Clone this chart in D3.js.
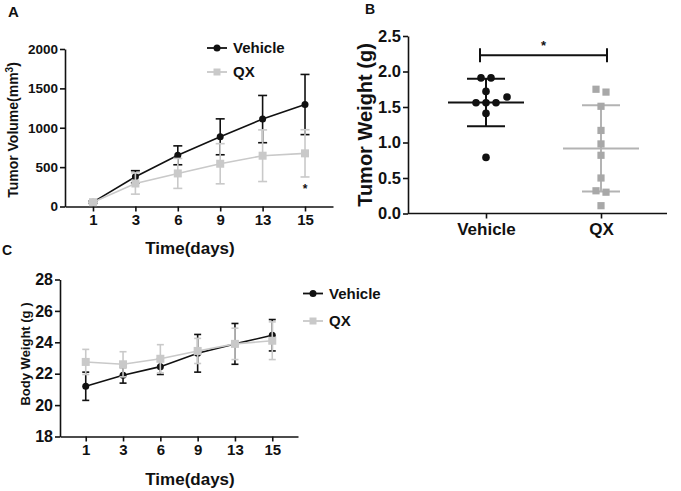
<!DOCTYPE html>
<html>
<head>
<meta charset="utf-8">
<script src="https://cdn.jsdelivr.net/npm/d3@7"></script>
<style>
  html, body { margin: 0; padding: 0; background: #fff; }
  svg { display: block; }
  text { font-family: Arial, "Liberation Sans", sans-serif; font-weight: bold; fill: #111; }
</style>
</head>
<body>
<svg id="chart" width="681" height="491"></svg>
<script>
// ---------- DATA ----------
const days = ["1", "3", "6", "9", "13", "15"];

// Panel A: tumor volume (mm^3), mean and SD
const volVehicle   = [55, 378, 650, 885, 1110, 1295];
const volVehicleSD = [15, 77, 120, 228, 300, 382];
const volQX        = [55, 292, 420, 543, 645, 675];
const volQXSD      = [15, 135, 190, 255, 328, 300];
const volTicks     = [0, 500, 1000, 1500, 2000];

// Panel B: tumor weight (g), individual animals
const groups        = ["Vehicle", "QX"];
const weightVehicle = [1.91, 1.91, 1.72, 1.64, 1.56, 1.56, 1.56, 1.41, 0.79];
const weightQX      = [1.75, 1.71, 1.51, 1.17, 0.98, 0.82, 0.50, 0.32, 0.30, 0.11];
const weightTicks   = [0, 0.5, 1.0, 1.5, 2.0, 2.5];

// Panel C: body weight (g), mean and SD
const bwVehicle   = [21.2, 21.9, 22.45, 23.3, 23.9, 24.45];
const bwVehicleSD = [0.9, 0.5, 0.5, 1.2, 1.3, 1.0];
const bwQX        = [22.75, 22.6, 22.95, 23.45, 23.9, 24.1];
const bwQXSD      = [0.8, 0.8, 0.9, 0.8, 1.0, 1.2];
const bwTicks     = [18, 20, 22, 24, 26, 28];

// ---------- STYLE ----------
const BLACK = "#111";
const LIGHT = "#c9c9c9";   // QX in line charts
const MID   = "#a8a8a8";   // QX in scatter
const AXW = 1.6;

const svg = d3.select("#chart");

function styleAxis(g, fontSize) {
  g.selectAll(".domain").attr("stroke", BLACK).attr("stroke-width", AXW);
  g.selectAll(".tick line").attr("stroke", BLACK).attr("stroke-width", AXW);
  g.selectAll(".tick text").attr("font-size", fontSize)
    .style("font-family", 'Arial, "Liberation Sans", sans-serif')
    .style("font-weight", "bold").attr("fill", BLACK);
}

function drawSeries(g, x, y, vals, sds, color, marker, capW, size) {
  const pts = days.map((d, i) => ({ d, v: vals[i], s: sds[i] }));
  g.append("path").datum(pts)
    .attr("fill", "none").attr("stroke", color).attr("stroke-width", 1.6)
    .attr("d", d3.line().x(p => x(p.d)).y(p => y(p.v)));
  const eb = g.append("g").attr("stroke", color).attr("stroke-width", 1.6);
  pts.forEach(p => {
    const cx = x(p.d);
    eb.append("line").attr("x1", cx).attr("x2", cx).attr("y1", y(p.v - p.s)).attr("y2", y(p.v + p.s));
    [p.v - p.s, p.v + p.s].forEach(v => {
      eb.append("line").attr("x1", cx - capW / 2).attr("x2", cx + capW / 2)
        .attr("y1", y(v)).attr("y2", y(v));
    });
  });
  pts.forEach(p => {
    if (marker === "circle") {
      g.append("circle").attr("cx", x(p.d)).attr("cy", y(p.v)).attr("r", size / 2).attr("fill", color);
    } else {
      g.append("rect").attr("x", x(p.d) - size / 2).attr("y", y(p.v) - size / 2)
        .attr("width", size).attr("height", size).attr("fill", color);
    }
  });
}

function legend(g, x0, y0, gap, fontSize) {
  const items = [
    { name: "Vehicle", color: BLACK, marker: "circle" },
    { name: "QX", color: LIGHT, marker: "square" }
  ];
  items.forEach((it, i) => {
    const yy = y0 + i * gap;
    g.append("line").attr("x1", x0).attr("x2", x0 + 20).attr("y1", yy).attr("y2", yy)
      .attr("stroke", it.color).attr("stroke-width", 1.8);
    if (it.marker === "circle") {
      g.append("circle").attr("cx", x0 + 10).attr("cy", yy).attr("r", 3.5).attr("fill", it.color);
    } else {
      g.append("rect").attr("x", x0 + 6.5).attr("y", yy - 3.5).attr("width", 7).attr("height", 7).attr("fill", it.color);
    }
    g.append("text").attr("x", x0 + 26).attr("y", yy).attr("dy", "0.36em")
      .attr("font-size", fontSize).text(it.name);
  });
}

// ================= PANEL A =================
{
  const g = svg.append("g");
  const x = d3.scalePoint().domain(days).range([65, 333]).padding(0.66);
  const y = d3.scaleLinear().domain([0, 2000]).range([206.5, 49]);

  const ax = g.append("g").attr("transform", `translate(0,${y(0)})`)
    .call(d3.axisBottom(x).tickSize(5).tickSizeOuter(0).tickPadding(3));
  styleAxis(ax, 15);
  const ay = g.append("g").attr("transform", `translate(65,0)`)
    .call(d3.axisLeft(y).tickValues(volTicks).tickFormat(d3.format("d"))
      .tickSize(5).tickSizeOuter(0).tickPadding(2));
  styleAxis(ay, 13.5);

  drawSeries(g, x, y, volVehicle, volVehicleSD, BLACK, "circle", 9, 7);
  drawSeries(g, x, y, volQX, volQXSD, LIGHT, "square", 9, 8);

  const last = days.length - 1;
  g.append("text").attr("x", x(days[last])).attr("y", y(volQX[last] - volQXSD[last]) + 16)
    .attr("text-anchor", "middle").attr("font-size", 12).attr("font-weight", "normal").text("*");

  legend(g, 207, 48, 24, 15);

  g.append("text").attr("transform", "translate(18,130) rotate(-90)")
    .attr("text-anchor", "middle").attr("font-size", 14)
    .html('Tumor Volume(mm<tspan dy="-5" font-size="10">3</tspan><tspan dy="5">)</tspan>');
  g.append("text").attr("x", 190).attr("y", 254).attr("text-anchor", "middle")
    .attr("font-size", 17).text("Time(days)");
  g.append("text").attr("x", 8).attr("y", 17).attr("font-size", 15).text("A");
}

// ================= PANEL B =================
{
  const g = svg.append("g");
  const x = d3.scalePoint().domain(groups).range([486, 601]);
  const y = d3.scaleLinear().domain([0, 2.5]).range([213.5, 36]);
  const x0 = 408, x1 = 667;

  const ax = g.append("g").attr("transform", `translate(0,${y(0)})`)
    .call(d3.axisBottom(x).tickSize(5).tickSizeOuter(0).tickPadding(4));
  ax.select(".domain").remove();
  styleAxis(ax, 17);
  g.append("line").attr("x1", x0).attr("x2", x1).attr("y1", y(0)).attr("y2", y(0))
    .attr("stroke", BLACK).attr("stroke-width", AXW);
  const ay = g.append("g").attr("transform", `translate(${x0},0)`)
    .call(d3.axisLeft(y).tickValues(weightTicks).tickFormat(d3.format(".1f"))
      .tickSize(5).tickSizeOuter(0).tickPadding(2));
  styleAxis(ay, 16.5);

  // beeswarm-style horizontal placement (computed, not typed)
  function swarm(vals, cx) {
    const dmin = 10, step = 5.25;
    const rows = [];
    vals.map((v, i) => ({ v, i, py: y(v) })).sort((a, b) => b.v - a.v).forEach(p => {
      const r = rows.find(r => Math.abs(r[0].py - p.py) < dmin / 2);
      if (r) r.push(p); else rows.push([p]);
    });
    rows.sort((a, b) => b.length - a.length || b[0].v - a[0].v);
    const placed = [];
    const cands = [0];
    for (let k = 1; k < 12; k++) { cands.push(k * step, -k * step); }
    rows.forEach(r => {
      for (const c of cands) {
        const xs = r.map((p, j) => cx + c + (j - (r.length - 1) / 2) * dmin);
        const ok = r.every((p, j) => placed.every(q => Math.hypot(q.x - xs[j], q.y - p.py) >= dmin));
        if (ok) { r.forEach((p, j) => placed.push({ x: xs[j], y: p.py, v: p.v })); break; }
      }
    });
    return placed;
  }

  function group(vals, name, color, lineColor, marker) {
    const cx = x(name);
    const m = d3.mean(vals), sd = d3.deviation(vals);
    const lg = g.append("g").attr("stroke", lineColor).attr("stroke-width", 2);
    lg.append("line").attr("x1", cx - 38).attr("x2", cx + 38).attr("y1", y(m)).attr("y2", y(m));
    lg.append("line").attr("x1", cx).attr("x2", cx).attr("y1", y(m - sd)).attr("y2", y(m + sd));
    [m - sd, m + sd].forEach(v => lg.append("line").attr("x1", cx - 19).attr("x2", cx + 19)
      .attr("y1", y(v)).attr("y2", y(v)));
    swarm(vals, cx).forEach(p => {
      if (marker === "circle") {
        g.append("circle").attr("cx", p.x).attr("cy", p.y).attr("r", 3.8).attr("fill", color);
      } else {
        g.append("rect").attr("x", p.x - 3.6).attr("y", p.y - 3.6).attr("width", 7.2).attr("height", 7.2).attr("fill", color);
      }
    });
  }
  group(weightVehicle, "Vehicle", BLACK, BLACK, "circle");
  group(weightQX, "QX", MID, "#b3b3b3", "square");

  const by = y(2.23);
  const bx0 = x("Vehicle") - 6, bx1 = x("QX") + 6;
  const bg = g.append("g").attr("stroke", BLACK).attr("stroke-width", 2);
  bg.append("line").attr("x1", bx0).attr("x2", bx1).attr("y1", by).attr("y2", by);
  bg.append("line").attr("x1", bx0).attr("x2", bx0).attr("y1", by - 7).attr("y2", by + 7);
  bg.append("line").attr("x1", bx1).attr("x2", bx1).attr("y1", by - 7).attr("y2", by + 7);
  g.append("text").attr("x", (bx0 + bx1) / 2).attr("y", by - 5).attr("text-anchor", "middle")
    .attr("font-size", 13).attr("font-weight", "normal").text("*");

  g.append("text").attr("transform", "translate(372,125) rotate(-90)")
    .attr("text-anchor", "middle").attr("font-size", 20).text("Tumor Weight (g)");
  g.append("text").attr("x", 365).attr("y", 14).attr("font-size", 14).text("B");
}

// ================= PANEL C =================
{
  const g = svg.append("g");
  const x = d3.scalePoint().domain(days).range([60, 298]).padding(0.69);
  const y = d3.scaleLinear().domain([18, 28]).range([436.5, 279.5]);

  const ax = g.append("g").attr("transform", `translate(0,${y(18)})`)
    .call(d3.axisBottom(x).tickSize(5).tickSizeOuter(0).tickPadding(3));
  styleAxis(ax, 15);
  const ay = g.append("g").attr("transform", `translate(60,0)`)
    .call(d3.axisLeft(y).tickValues(bwTicks).tickSize(5).tickSizeOuter(0).tickPadding(2));
  styleAxis(ay, 16);

  drawSeries(g, x, y, bwVehicle, bwVehicleSD, BLACK, "circle", 7, 7);
  drawSeries(g, x, y, bwQX, bwQXSD, LIGHT, "square", 7, 8);

  legend(g, 303, 293.5, 27.5, 15);

  g.append("text").attr("transform", "translate(30,354) rotate(-90)")
    .attr("text-anchor", "middle").attr("font-size", 13).text("Body Weight (g )");
  g.append("text").attr("x", 190).attr("y", 485).attr("text-anchor", "middle")
    .attr("font-size", 17).text("Time(days)");
  g.append("text").attr("x", 2).attr("y", 255).attr("font-size", 14).text("C");
}
</script>
</body>
</html>
